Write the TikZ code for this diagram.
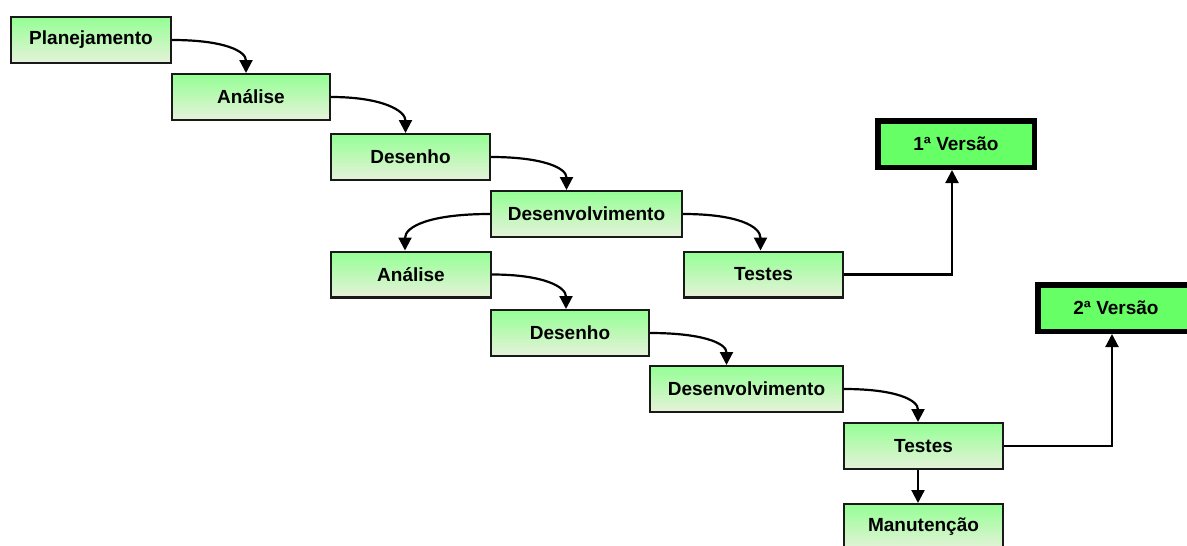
\documentclass[tikz,border=0pt]{standalone}
\usepackage{fontspec}
\setmainfont{Liberation Sans}
\usetikzlibrary{arrows.meta}
\definecolor{boxtop}{RGB}{148,255,148}
\definecolor{boxbot}{RGB}{230,242,218}
\definecolor{verfill}{RGB}{102,255,102}
\definecolor{edge}{RGB}{25,25,25}
\begin{document}
\begin{tikzpicture}[x=1pt,y=-1pt,
  phase/.style={draw=edge, line width=2.2pt, top color=boxtop, bottom color=boxbot,
    minimum width=#1, minimum height=45.8pt, inner sep=0pt,
    font=\fontsize{19}{22}\selectfont\bfseries},
  release/.style={draw=black, line width=5.5pt, fill=verfill,
    minimum width=156.5pt, minimum height=46.5pt, inner sep=0pt,
    font=\fontsize{19}{22}\selectfont\bfseries},
  flow/.style={draw=black, line width=2.2pt, -{Triangle[length=13pt,width=13pt]}}]
\useasboundingbox (0,0) rectangle (1187,546);

% first cycle
\node[phase=159.8pt] (plan) at (91,40) {Planejamento};
\node[phase=157.8pt] (an1) at (251,97) {Análise};
\node[phase=158.8pt] (des1) at (410.5,157) {Desenho};
\node[phase=190.8pt] (dev1) at (586.5,214) {Desenvolvimento};
\node[phase=158.8pt] (tes1) at (763.5,274.5) {Testes};
\node[release] (v1) at (956,144) {1ª Versão};

% second cycle
\node[phase=159.8pt] (an2) at (411,274.5) {Análise};
\node[phase=157.8pt] (des2) at (570,333) {Desenho};
\node[phase=192.8pt] (dev2) at (746.5,389) {Desenvolvimento};
\node[phase=158.8pt] (tes2) at (923.5,446) {Testes};
\node[phase=158.8pt] (man) at (923.5,527) {Manutenção};
\node[release] (v2) at (1116,308) {2ª Versão};

% curved hand-offs between phases
\draw[flow] (plan.east) .. controls +(52,0) and +(0,-22) .. ([xshift=-5pt]an1.north);
\draw[flow] (an1.east) .. controls +(52,0) and +(0,-22) .. ([xshift=-5pt]des1.north);
\draw[flow] (des1.east) .. controls +(52,0) and +(0,-22) .. ([xshift=-20pt]dev1.north);
\draw[flow] (dev1.east) .. controls +(55,0) and +(0,-24) .. ([xshift=-3pt]tes1.north);
\draw[flow] (dev1.west) .. controls +(-60,0) and +(0,-24) .. ([xshift=-6pt]an2.north);
\draw[flow] (an2.east) .. controls +(52,0) and +(0,-22) .. ([xshift=-4pt]des2.north);
\draw[flow] (des2.east) .. controls +(52,0) and +(0,-22) .. ([xshift=-20pt]dev2.north);
\draw[flow] (dev2.east) .. controls +(52,0) and +(0,-22) .. ([xshift=-5.5pt]tes2.north);

% releases and maintenance
\draw[flow] (tes1.east) -| ([xshift=-4pt]v1.south);
\draw[flow] (tes2.east) -| ([xshift=-4pt]v2.south);
\draw[flow] ([xshift=-5.5pt]tes2.south) -- ([xshift=-5.5pt]man.north);
\end{tikzpicture}
\end{document}
